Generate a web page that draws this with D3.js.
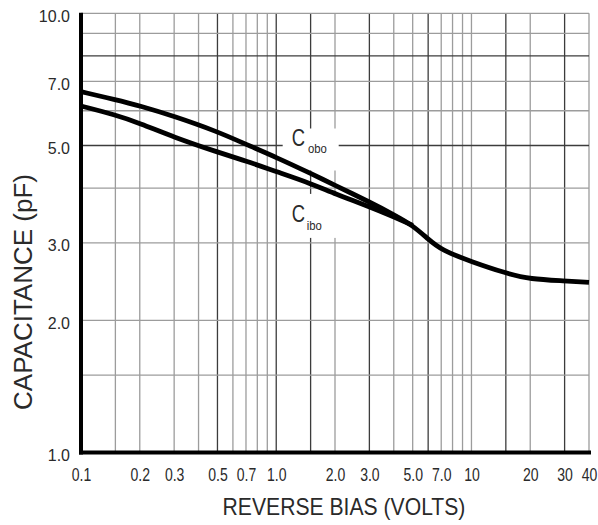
<!DOCTYPE html>
<html>
<head>
<meta charset="utf-8">
<script src="https://cdn.jsdelivr.net/npm/d3@7"></script>
<style>
  html, body { margin: 0; padding: 0; background: #fff; }
  svg { display: block; }
</style>
</head>
<body>
<div id="chart"></div>
<script>
// reverse bias (V) at which the curves were read
const voltages = [0.1, 0.15, 0.2, 0.3, 0.5, 0.7, 1.0, 1.5, 2.0, 3.0, 4.0, 5.0, 6.0, 7.0, 10, 15, 20, 30, 40];
// output capacitance Cobo (pF)
const cobo = [6.63, 6.36, 6.16, 5.83, 5.38, 5.03, 4.70, 4.32, 4.06, 3.72, 3.48, 3.29, 3.06, 2.89, 2.72, 2.56, 2.48, 2.46, 2.44];
// input capacitance Cibo (pF), runs into Cobo around 5 V
const ciboVolts = [0.1, 0.15, 0.2, 0.3, 0.5, 0.7, 1.0, 1.5, 2.0, 3.0, 4.0, 5.0];
const cibo = [6.15, 5.87, 5.62, 5.22, 4.83, 4.61, 4.36, 4.10, 3.88, 3.63, 3.44, 3.29];

const xTicks = [0.1, 0.2, 0.3, 0.5, 0.7, 1.0, 2.0, 3.0, 5.0, 7.0, 10, 20, 30, 40];
const xTickLabels = ["0.1", "0.2", "0.3", "0.5", "0.7", "1.0", "2.0", "3.0", "5.0", "7.0", "10", "20", "30", "40"];
const yTicks = [1, 2, 3, 5, 7, 10];
const yTickLabels = ["1.0", "2.0", "3.0", "5.0", "7.0", "10.0"];

const xGrid = [0.15, 0.2, 0.3, 0.4, 0.5, 0.6, 0.7, 0.8, 0.9, 1, 1.5, 2, 3, 4, 5, 6, 7, 8, 9, 10, 15, 20, 30, 40];
const xGridDark = [0.5, 1, 1.5, 3, 6, 15, 30];
const yGrid = [1.5, 2, 3, 4, 5, 6, 7, 8, 9, 10];
const yGridDark = [5, 8];

// curve labels, anchored in data units (V, pF)
const curveLabels = [
    {sub: "obo", v: 1.2, c: 5.0},
    {sub: "ibo", v: 1.2, c: 3.35}
];

(function() {
    const width = 598, height = 525, margin = {top: 13.3, right: 9, bottom: 72.5, left: 81};
    const font = "'Liberation Sans', Arial, Helvetica, sans-serif";
    const ink = "#2a2a2a";

    const container = d3.select("#chart");
    container.selectAll("*").remove();
    const svg = container.append("svg").attr("width", width).attr("height", height);

    const x = d3.scaleLog().domain([0.1, 40]).range([margin.left, width - margin.right]);
    const y = d3.scaleLog().domain([1, 10]).range([height - margin.bottom, margin.top]);

    // grid
    svg.append("g").selectAll("line")
        .data(xGrid)
        .join("line")
        .attr("x1", d => x(d)).attr("x2", d => x(d))
        .attr("y1", y(10)).attr("y2", y(1))
        .attr("stroke", d => xGridDark.includes(d) ? "#3c3c3c" : "#9c9c9c")
        .attr("stroke-width", 1.3);

    svg.append("g").selectAll("line")
        .data(yGrid)
        .join("line")
        .attr("x1", x(0.1)).attr("x2", x(40))
        .attr("y1", d => y(d)).attr("y2", d => y(d))
        .attr("stroke", d => yGridDark.includes(d) ? "#3c3c3c" : "#9c9c9c")
        .attr("stroke-width", 1.3);

    // white boxes behind the curve labels
    const boxes = {obo: {dx: -9, dy: -17, w: 56, h: 42}, ibo: {dx: -9, dy: -28, w: 56, h: 44}};
    const lab = svg.append("g").selectAll("g")
        .data(curveLabels)
        .join("g")
        .attr("transform", d => `translate(${x(d.v)},${y(d.c)})`);

    lab.append("rect")
        .attr("x", d => boxes[d.sub].dx).attr("y", d => boxes[d.sub].dy)
        .attr("width", d => boxes[d.sub].w).attr("height", d => boxes[d.sub].h)
        .attr("fill", "#fff");

    lab.append("text")
        .attr("transform", "scale(0.8,1)")
        .style("font-family", font).style("font-size", "23px").attr("fill", ink)
        .text("C");

    lab.append("text")
        .attr("transform", d => d.sub === "obo" ? "translate(16.3,7.5) scale(0.87,1)" : "translate(15,7.7) scale(0.87,1)")
        .style("font-family", font).style("font-size", "13px").attr("fill", ink)
        .text(d => d.sub);

    // curves
    const line = d3.line()
        .x(d => x(d[0]))
        .y(d => y(d[1]))
        .curve(d3.curveBasis);

    svg.append("path")
        .datum(voltages.map((v, i) => [v, cobo[i]]))
        .attr("d", line)
        .attr("fill", "none").attr("stroke", "#000").attr("stroke-width", 4.8);

    svg.append("path")
        .datum(ciboVolts.map((v, i) => [v, cibo[i]]))
        .attr("d", line)
        .attr("fill", "none").attr("stroke", "#000").attr("stroke-width", 4.8);

    // tick labels
    const xAxis = svg.append("g")
        .attr("transform", `translate(0,${y(1)})`)
        .call(d3.axisBottom(x).tickValues(xTicks).tickFormat((d, i) => xTickLabels[i]).tickSize(0));
    xAxis.select(".domain").remove();
    xAxis.selectAll("text")
        .attr("y", 28.5).attr("dy", 0)
        .attr("transform", "scale(0.78,1)")
        .attr("fill", ink)
        .style("font-family", font).style("font-size", "18px");

    const yAxis = svg.append("g")
        .attr("transform", `translate(${margin.left},0)`)
        .call(d3.axisLeft(y).tickValues(yTicks).tickFormat((d, i) => yTickLabels[i]).tickSize(0));
    yAxis.select(".domain").remove();
    yAxis.selectAll("text")
        .attr("x", -11).attr("dy", "0.5em")
        .attr("fill", ink)
        .style("font-family", font).style("font-size", "16px");

    // heavy axis lines
    svg.append("line")
        .attr("x1", x(0.1)).attr("x2", x(0.1))
        .attr("y1", y(10) - 0.5).attr("y2", y(1) + 2)
        .attr("stroke", "#000").attr("stroke-width", 4);
    svg.append("line")
        .attr("x1", x(0.1) - 2).attr("x2", x(40) + 2)
        .attr("y1", y(1)).attr("y2", y(1))
        .attr("stroke", "#000").attr("stroke-width", 4);

    // X-axis label
    svg.append("text")
        .attr("transform", "translate(344,515) scale(0.92,1)")
        .attr("text-anchor", "middle")
        .attr("fill", ink)
        .style("font-family", font).style("font-size", "23px")
        .text("REVERSE BIAS (VOLTS)");

    // Y-axis label
    svg.append("text")
        .attr("transform", "translate(31.5,292) rotate(-90)")
        .attr("text-anchor", "middle")
        .attr("fill", ink)
        .style("font-family", font).style("font-size", "26px")
        .text("CAPACITANCE (pF)");
})();
</script>
</body>
</html>
